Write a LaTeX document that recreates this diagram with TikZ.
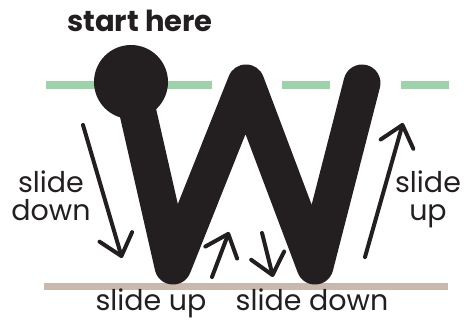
\documentclass[tikz,border=0pt]{standalone}
\usepackage{fontspec}
\setmainfont{Poppins}
\usetikzlibrary{arrows.meta}
\definecolor{ink}{HTML}{231F20}
\definecolor{topline}{HTML}{9DD3A8}
\definecolor{floorline}{HTML}{C9B8AC}
\begin{document}
\begin{tikzpicture}[x=1pt, y=1pt, every node/.style={font=\fontsize{28.5}{28}\selectfont, text=ink, inner sep=0pt},
  hint/.style={ink, line width=4pt, line cap=round, -{Straight Barb[length=20pt, width=34pt, round]}}]
\useasboundingbox (0,0) rectangle (466,321);
% guide lines
\draw[topline, line width=8pt] (46,236)--(212,236) (282,236)--(330,236) (401,236)--(449,236);
\draw[floorline, line width=7pt] (44,34)--(448,34);
% the letter
\draw[ink, line width=37pt, line cap=round, line join=round] (131,239)--(173,55)--(246,238)--(315,55)--(362,238);
\fill[ink] (131,239) circle (37);
% labels
\node[font=\fontsize{29}{30}\selectfont\bfseries, anchor=base] (start) at (140,289) {start here};
\node[align=center, anchor=north] (leftlbl) at (51,150) {slide\\down};
\node[align=center, anchor=north] (rightlbl) at (428,150) {slide\\up};
\node[anchor=base] (uplbl) at (151,10) {slide up};
\node[anchor=base] (downlbl) at (312,10) {slide down};
% arrows
\coordinate (d1) at (83,196); \coordinate (d2) at (122,63);
\coordinate (u1) at (212,44); \coordinate (u2) at (229,89);
\coordinate (e1) at (262,88); \coordinate (e2) at (273,44);
\coordinate (r1) at (365,64); \coordinate (r2) at (403,198);
\draw[hint] (d1)--(d2);
\draw[hint] (u1)--(u2);
\draw[hint] (e1)--(e2);
\draw[hint] (r1)--(r2);
\end{tikzpicture}
\end{document}
